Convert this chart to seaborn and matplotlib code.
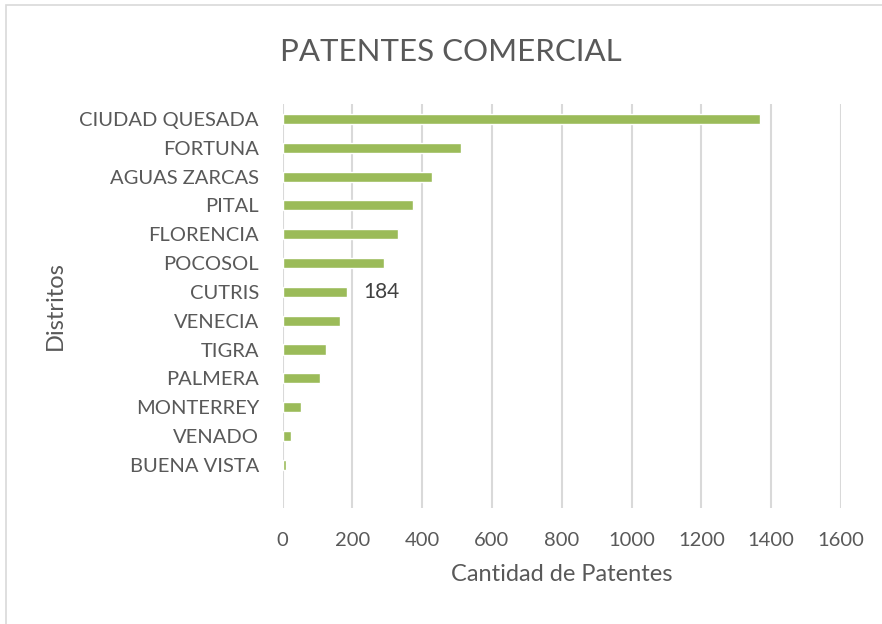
"""Patentes comerciales por distrito - horizontal bar chart."""

import matplotlib.pyplot as plt
import pandas as pd
import seaborn as sns
from matplotlib.patches import Rectangle

distritos = [
    "CIUDAD QUESADA", "FORTUNA", "AGUAS ZARCAS", "PITAL", "FLORENCIA", "POCOSOL",
    "CUTRIS", "VENECIA", "TIGRA", "PALMERA", "MONTERREY", "VENADO", "BUENA VISTA",
]
patentes = [1367, 512, 429, 374, 332, 290, 184, 166, 124, 107, 52, 25, 10]
x_ticks = [0, 200, 400, 600, 800, 1000, 1200, 1400, 1600]
labeled = "CUTRIS"

sns.set_theme(style="white")
plt.rcParams["font.family"] = ["Lato", "DejaVu Sans"]

df = pd.DataFrame({"distrito": distritos, "patentes": patentes})

fig = plt.figure(figsize=(8.82, 6.24), dpi=100)
ax = fig.add_axes([0.3203, 0.1859, 0.6332, 0.6474])

sns.barplot(data=df, x="patentes", y="distrito", order=distritos, color="#9BBB59",
            saturation=1, width=0.35, ax=ax)

ax.set_xlim(0, 1600)
ax.set_ylim(13.5, -0.52)
ax.set_xticks(x_ticks)
ax.set_xticklabels([str(t) for t in x_ticks])
ax.grid(axis="x", color="#D9D9D9", linewidth=1.5)
ax.set_axisbelow(True)
for side in ["top", "right", "bottom", "left"]:
    ax.spines[side].set_visible(False)
ax.tick_params(axis="both", length=0, labelsize=14.5, colors="#595959")
ax.tick_params(axis="x", pad=17)
ax.tick_params(axis="y", pad=17)

ax.set_xlabel("Cantidad de Patentes", fontsize=17, color="#595959", labelpad=11)
ax.set_ylabel("Distritos", fontsize=17, color="#595959", labelpad=10)
fig.text(0.511, 0.917, "PATENTES COMERCIAL", ha="center", va="center", fontsize=22.5,
         color="#595959")

idx = distritos.index(labeled)
ax.annotate(str(patentes[idx]), xy=(patentes[idx], idx), xytext=(12, 0),
            textcoords="offset points", ha="left", va="center", fontsize=15,
            color="#404040")

fig.patches.append(Rectangle((0.007, -0.01), 1.0, 1.002, transform=fig.transFigure,
                             fill=False, edgecolor="#D9D9D9", linewidth=1.2))

fig.savefig("out.png", dpi=100)
